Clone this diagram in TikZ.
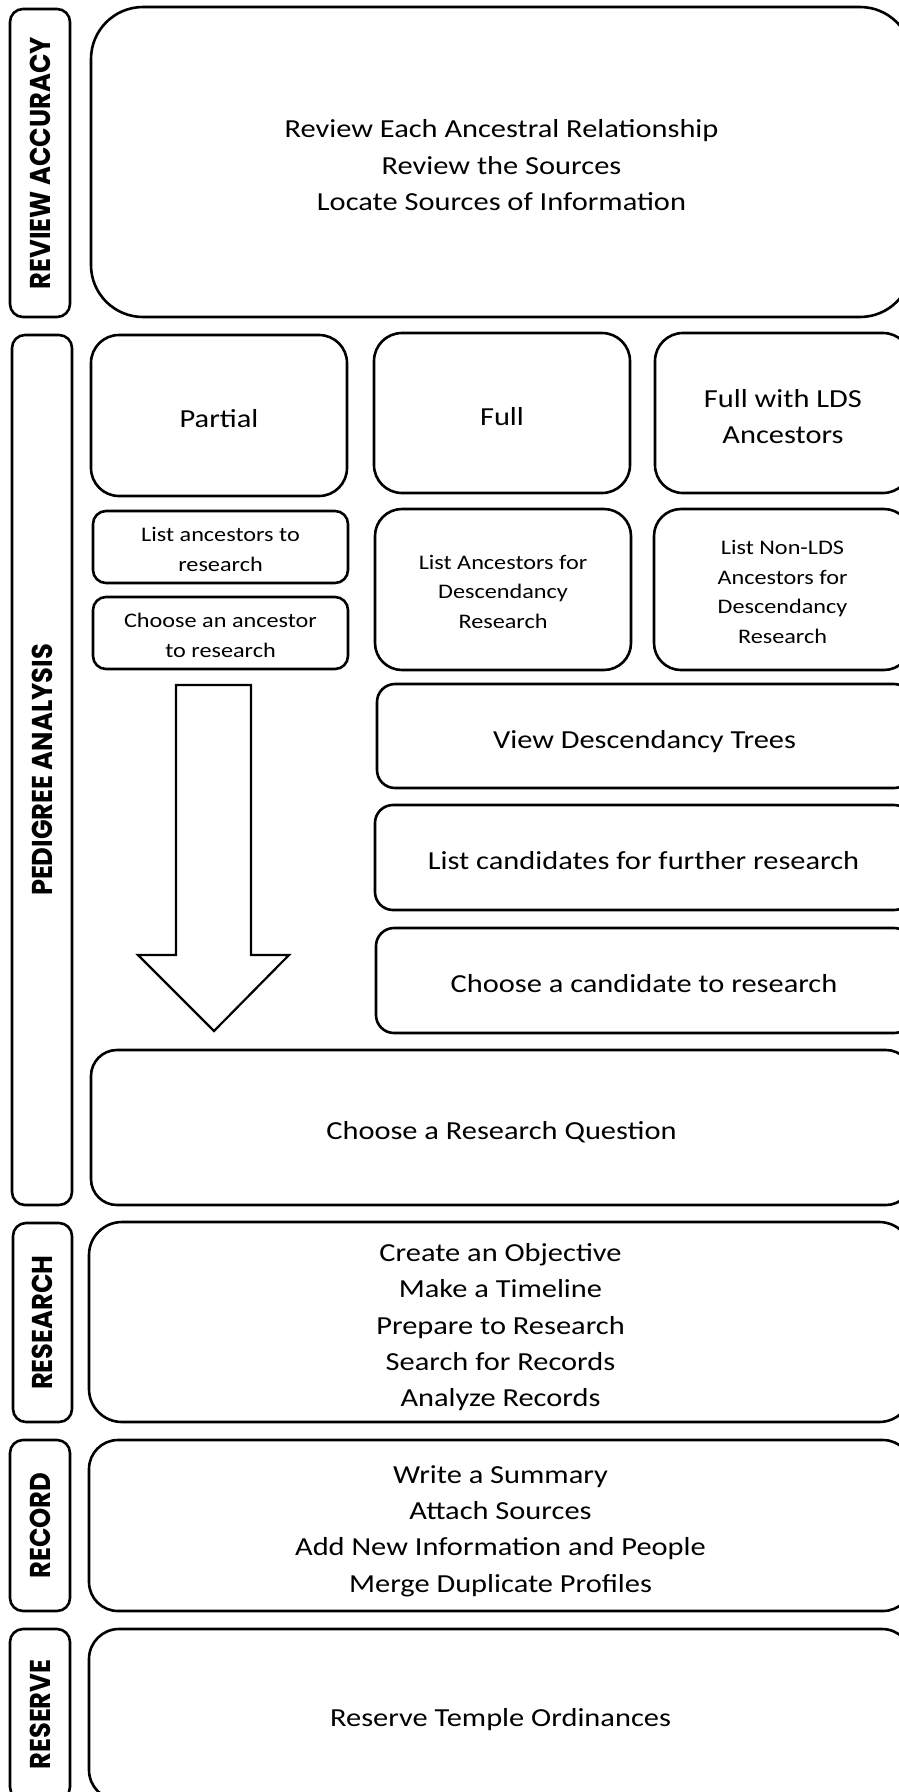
\documentclass[tikz,border=0pt]{standalone}
\usepackage{fontspec}
\usepackage{graphicx}
\setmainfont{Carlito}
\newfontfamily\lblfont{Poppins}
\newcommand\mt[1]{\raisebox{-5pt}[\height][\depth]{\scalebox{1.17}[1]{\fontsize{26}{36.3}\selectfont\begin{tabular}{@{}c@{}}#1\end{tabular}}}}
\newcommand\smt[1]{\raisebox{-3.5pt}[\height][\depth]{\scalebox{1.17}[1]{\fontsize{20.7}{29.5}\selectfont\begin{tabular}{@{}c@{}}#1\end{tabular}}}}
\newcommand\lbtext[1]{\scalebox{1.05}[1.17]{\lblfont\bfseries\fontsize{24.5}{26}\selectfont #1}}
\tikzset{
  rbox/.style={draw=black, line width=2.6pt, rounded corners=#1, inner sep=0pt, align=center},
  lblbox/.style={draw=black, line width=2.6pt, rounded corners=13pt, rotate=90, inner sep=0pt},
  bigarrow/.style={draw=black, line width=2.2pt, fill=white, line join=miter}
}
\begin{document}
\begin{tikzpicture}[x=1pt,y=-1pt]
\useasboundingbox (0,0) rectangle (899,1792);
\fill[white] (0,0) rectangle (899,1792);
\clip (0,0) rectangle (899,1792);

% REVIEW ACCURACY
\node[lblbox, minimum width=308pt, minimum height=60pt] (revlab) at (40,163) {\lbtext{REVIEW ACCURACY}};
\node[rbox=52pt, minimum width=821pt, minimum height=310pt] (rev) at (501.5,162)
  {\mt{Review Each Ancestral Relationship\\Review the Sources\\Locate Sources of Information}};

% PEDIGREE ANALYSIS
\node[lblbox, minimum width=870pt, minimum height=60pt] (pedlab) at (42,770) {\lbtext{PEDIGREE ANALYSIS}};
\node[rbox=28pt, minimum width=256pt, minimum height=161pt] (partial) at (219,415.5) {\mt{Partial}};
\node[rbox=28pt, minimum width=256pt, minimum height=160pt] (full) at (502,413) {\mt{Full}};
\node[rbox=28pt, minimum width=256pt, minimum height=160pt] (lds) at (783,413) {\mt{Full with LDS\\Ancestors}};
\node[rbox=13pt, minimum width=255pt, minimum height=72pt] (listanc) at (220.5,547) {\smt{List ancestors to\\research}};
\node[rbox=13pt, minimum width=255pt, minimum height=72pt] (chooseanc) at (220.5,633) {\smt{Choose an ancestor\\to research}};
\node[rbox=27pt, minimum width=256pt, minimum height=161pt] (listdesc) at (503,589.5) {\smt{List Ancestors for\\Descendancy\\Research}};
\node[rbox=27pt, minimum width=257pt, minimum height=161pt] (listnonlds) at (782.5,589.5) {\smt{List Non-LDS\\Ancestors for\\Descendancy\\Research}};
\node[rbox=18pt, minimum width=535pt, minimum height=104pt] (viewdesc) at (644.5,736) {\mt{View Descendancy Trees}};
\node[rbox=18pt, minimum width=537pt, minimum height=105pt] (listcand) at (643.5,857.5) {\mt{List candidates for further research}};
\node[rbox=18pt, minimum width=536pt, minimum height=105pt] (choosecand) at (644,980.5) {\mt{Choose a candidate to research}};
\node[rbox=26pt, minimum width=821pt, minimum height=155pt] (rq) at (501.5,1127.5) {\mt{Choose a Research Question}};

% big down arrow
\draw[bigarrow] (176,685) -- (251,685) -- (251,955) -- (289,955) -- (214,1031) -- (138,955) -- (176,955) -- cycle;

% RESEARCH
\node[lblbox, minimum width=199pt, minimum height=59pt] (reslab) at (42.5,1322.5) {\lbtext{RESEARCH}};
\node[rbox=33pt, minimum width=823pt, minimum height=200pt] (res) at (500.5,1322)
  {\mt{Create an Objective\\Make a Timeline\\Prepare to Research\\Search for Records\\Analyze Records}};

% RECORD
\node[lblbox, minimum width=171pt, minimum height=60pt] (reclab) at (40,1525.5) {\lbtext{RECORD}};
\node[rbox=29pt, minimum width=823pt, minimum height=171pt] (rec) at (500.5,1525.5)
  {\mt{Write a Summary\\Attach Sources\\Add New Information and People\\Merge Duplicate Profiles}};

% RESERVE
\node[lblbox, minimum width=171pt, minimum height=60pt] (rsvlab) at (40,1714.5) {\lbtext{RESERVE}};
\node[rbox=30pt, minimum width=823pt, minimum height=171pt] (rsv) at (500.5,1714.5) {\mt{Reserve Temple Ordinances}};
\end{tikzpicture}
\end{document}
